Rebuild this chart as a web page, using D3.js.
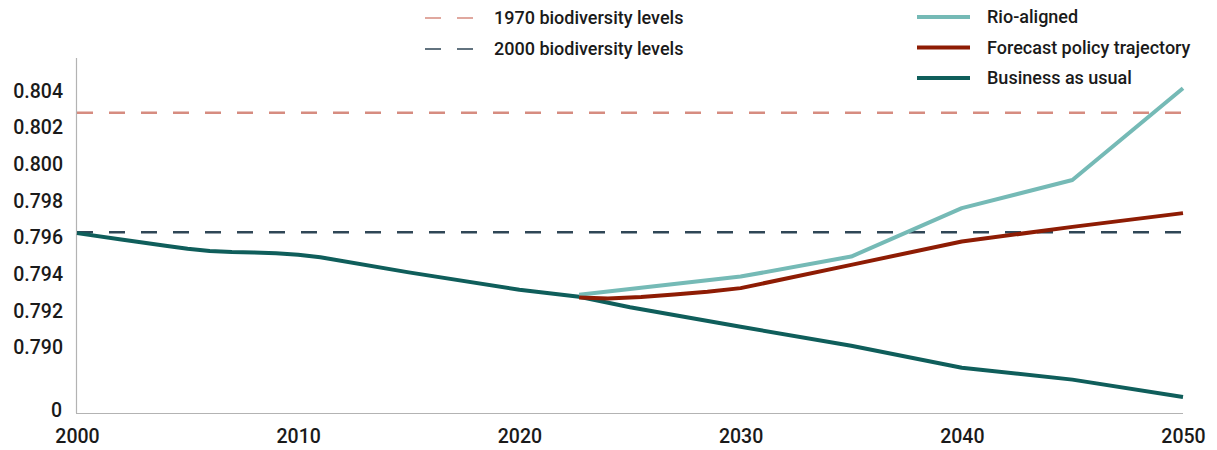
<!DOCTYPE html>
<html>
<head>
<meta charset="utf-8">
<script src="https://cdn.jsdelivr.net/npm/d3@7"></script>
<style>
  html, body { margin: 0; padding: 0; background: #fff; }
  svg { display: block; font-family: Roboto, "Noto Sans", sans-serif; }
</style>
</head>
<body>
<svg id="chart" width="1217" height="450"></svg>
<script>
// ---- data ----
const bauYears   = [2000, 2002, 2004, 2005, 2006, 2007, 2008, 2009, 2010, 2011, 2015, 2020, 2022.7, 2025, 2030, 2035, 2040, 2045, 2050];
const bauValues  = [0.79625, 0.79590, 0.79556, 0.79540, 0.79528, 0.79522, 0.79519, 0.79515, 0.79507, 0.79493, 0.79411, 0.79316, 0.79278, 0.79221, 0.79114, 0.79011, 0.78891, 0.78826, 0.78731];

const rioYears   = [2022.7, 2030, 2035, 2040, 2045, 2050];
const rioValues  = [0.79289, 0.79388, 0.79497, 0.79761, 0.79915, 0.80415];

const fcYears    = [2022.7, 2024, 2025.5, 2027, 2028.5, 2030, 2035, 2040, 2045, 2050];
const fcValues   = [0.79274, 0.79268, 0.79276, 0.79290, 0.79305, 0.79325, 0.79452, 0.79579, 0.79659, 0.79734];

const level1970 = 0.80282;
const level2000 = 0.79630;

const xTicks = [2000, 2010, 2020, 2030, 2040, 2050];
const yTicks = [0.790, 0.792, 0.794, 0.796, 0.798, 0.800, 0.802, 0.804];
const yZeroLabel = "0";
const yMin = 0.78644, yMax = 0.80580;

const seriesNames = ["Rio-aligned", "Forecast policy trajectory", "Business as usual"];
const refNames = ["1970 biodiversity levels", "2000 biodiversity levels"];

// ---- styles ----
const colors = { rio: "#75bab6", fc: "#8e1c04", bau: "#0f5e5b", l1970: "#d68c80", l2000: "#2f4656" };

const svg = d3.select("#chart");
const mLeft = 77, mRight = 1183, mTop = 58, mBottom = 413;

const x = d3.scaleLinear().domain([2000, 2050]).range([mLeft, mRight]);
const y = d3.scaleLinear().domain([yMin, yMax]).range([mBottom, mTop]);

// axis lines
svg.append("line").attr("x1", mLeft - 0.5).attr("x2", mLeft - 0.5).attr("y1", mTop).attr("y2", mBottom)
  .attr("stroke", "#b3b3b3").attr("stroke-width", 1.2);
svg.append("line").attr("x1", mLeft - 1).attr("x2", mRight).attr("y1", mBottom + 0.5).attr("y2", mBottom + 0.5)
  .attr("stroke", "#b3b3b3").attr("stroke-width", 1.2);

// y axis
const yAxis = d3.axisLeft(y).tickValues(yTicks).tickFormat(d3.format(".3f")).tickSize(0).tickPadding(14);
const gy = svg.append("g").attr("transform", `translate(${mLeft},0)`).call(yAxis);
gy.select(".domain").remove();
gy.selectAll("text").attr("font-size", 19.5).attr("font-weight", 500).attr("fill", "#1a1a1a")
  .attr("font-family", "Roboto, sans-serif");
svg.append("text").attr("x", 62).attr("y", y(yMin) - 3).attr("dy", "0.35em").attr("text-anchor", "end")
  .attr("font-size", 19.5).attr("font-weight", 500).attr("fill", "#1a1a1a").text(yZeroLabel);

// x axis
const xAxis = d3.axisBottom(x).tickValues(xTicks).tickFormat(d3.format("d")).tickSize(0).tickPadding(16);
const gx = svg.append("g").attr("transform", `translate(0,${mBottom})`).call(xAxis);
gx.select(".domain").remove();
gx.selectAll("text").attr("font-size", 19.5).attr("font-weight", 500).attr("fill", "#1a1a1a")
  .attr("font-family", "Roboto, sans-serif");

// reference lines
svg.append("line").attr("x1", x(2000)).attr("x2", x(2050)).attr("y1", y(level1970)).attr("y2", y(level1970))
  .attr("stroke", colors.l1970).attr("stroke-width", 2.5).attr("stroke-dasharray", "16,16");
svg.append("line").attr("x1", x(2000)).attr("x2", x(2050)).attr("y1", y(level2000)).attr("y2", y(level2000))
  .attr("stroke", colors.l2000).attr("stroke-width", 2.5).attr("stroke-dasharray", "16,16");

// series lines
const line = d3.line().x(d => x(d[0])).y(d => y(d[1])).curve(d3.curveLinear);
function draw(years, vals, color) {
  svg.append("path").datum(years.map((yr, i) => [yr, vals[i]]))
    .attr("d", line).attr("fill", "none").attr("stroke", color).attr("stroke-width", 4)
    .attr("stroke-linejoin", "round");
}
draw(bauYears, bauValues, colors.bau);
draw(rioYears, rioValues, colors.rio);
draw(fcYears, fcValues, colors.fc);

// legend: reference levels
const refColors = [colors.l1970, colors.l2000];
refNames.forEach((name, i) => {
  const ly = 18 + i * 31;
  svg.append("line").attr("x1", 425).attr("x2", 473).attr("y1", ly).attr("y2", ly)
    .attr("stroke", refColors[i]).attr("stroke-width", 1.6).attr("stroke-dasharray", "16,16");
  svg.append("text").attr("x", 494).attr("y", ly).attr("dy", "0.35em").attr("font-size", 18)
    .attr("font-weight", 500).attr("fill", "#1a1a1a").text(name);
});

// legend: series
const serColors = [colors.rio, colors.fc, colors.bau];
seriesNames.forEach((name, i) => {
  const ly = 17 + i * 30.5;
  svg.append("line").attr("x1", 917).attr("x2", 970).attr("y1", ly).attr("y2", ly)
    .attr("stroke", serColors[i]).attr("stroke-width", 4);
  svg.append("text").attr("x", 987).attr("y", ly).attr("dy", "0.35em").attr("font-size", 18)
    .attr("font-weight", 500).attr("fill", "#1a1a1a").text(name);
});
</script>
</body>
</html>
